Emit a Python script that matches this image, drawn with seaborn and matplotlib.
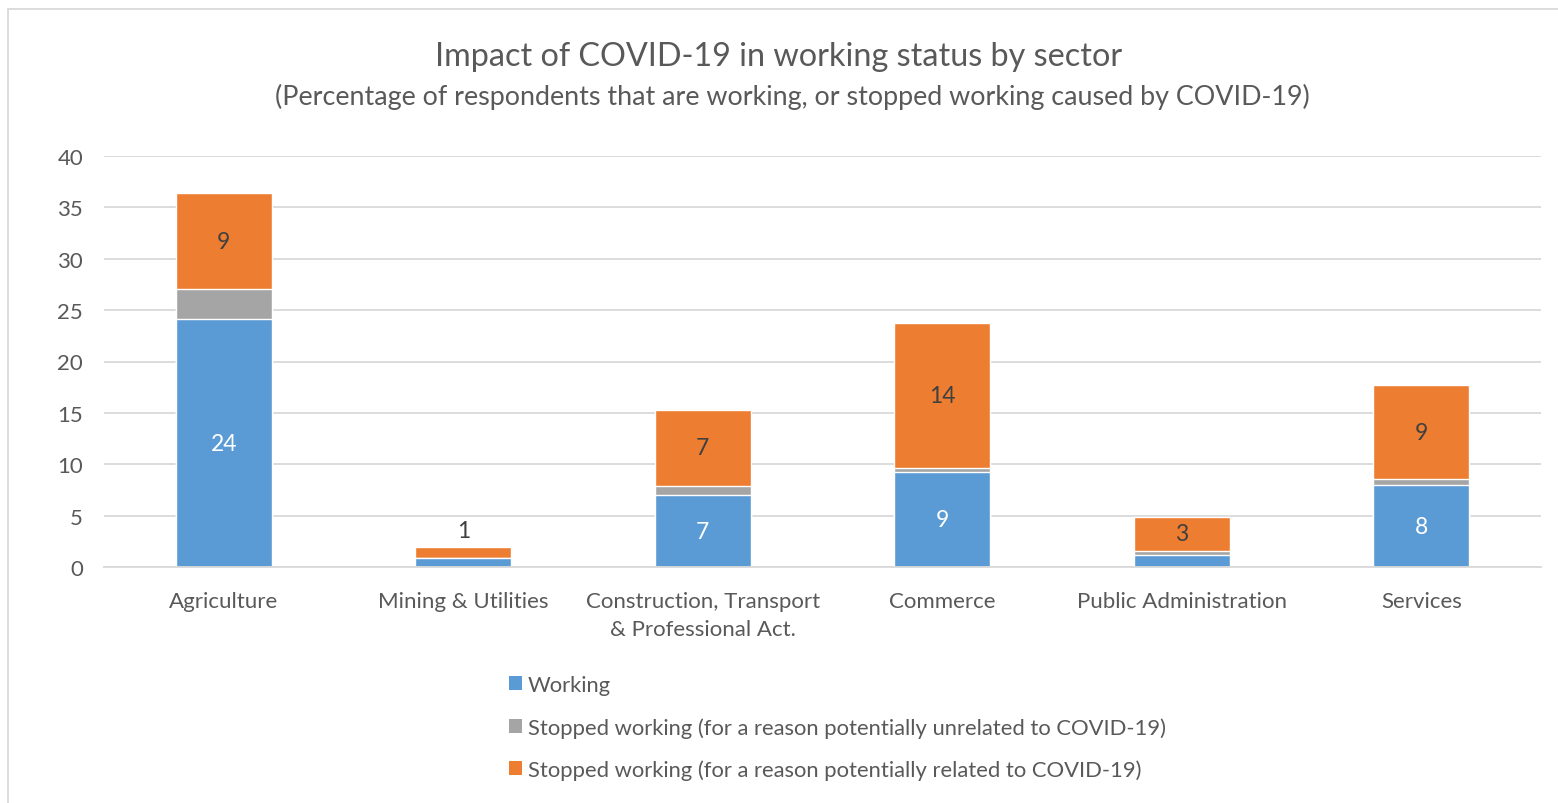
import pandas as pd
import matplotlib
matplotlib.use('Agg')
import matplotlib.pyplot as plt
import seaborn as sns
from matplotlib.patches import Patch
from matplotlib.lines import Line2D

sectors = ['Agriculture', 'Mining & Utilities', 'Construction, Transport\n& Professional Act.',
           'Commerce', 'Public Administration', 'Services']
working = [24.1, 0.85, 6.96, 9.2, 1.2, 7.98]
stopped_unrelated = [2.95, 0.0, 0.9, 0.39, 0.39, 0.58]
stopped_related = [9.31, 1.13, 7.46, 14.2, 3.25, 9.15]
series_names = ['Working',
                'Stopped working (for a reason potentially unrelated to COVID-19)',
                'Stopped working (for a reason potentially related to COVID-19)']

BLUE, GRAY, ORANGE = '#5B9BD5', '#A5A5A5', '#ED7D31'
TXT = '#595959'
GRID = '#D9D9D9'

df = pd.DataFrame({'Sector': sectors, 'Working': working,
                   'Unrelated': stopped_unrelated, 'Related': stopped_related})
df['Level2'] = df['Working'] + df['Unrelated']
df['Total'] = df['Level2'] + df['Related']

sns.set_style('white')
plt.rcParams['font.family'] = ['Lato', 'DejaVu Sans']

fig = plt.figure(figsize=(15.58, 8.04), dpi=100)
ax = fig.add_axes([104 / 1558, 1 - 568 / 804, (1541 - 104) / 1558, (568 - 157) / 804])

# stacked bars drawn as overlapping cumulative totals
sns.barplot(data=df, x='Sector', y='Total', color=ORANGE, width=0.4, saturation=1, ax=ax)
sns.barplot(data=df, x='Sector', y='Level2', color=GRAY, width=0.4, saturation=1, ax=ax)
sns.barplot(data=df, x='Sector', y='Working', color=BLUE, width=0.4, saturation=1, ax=ax)

ax.set_ylim(0, 40)
ax.set_yticks(range(0, 41, 5))
ax.yaxis.grid(True, color=GRID, linewidth=1.3)
ax.set_axisbelow(True)
for s in ['top', 'right', 'left']:
    ax.spines[s].set_visible(False)
ax.spines['bottom'].set_color(GRID)
ax.spines['bottom'].set_linewidth(1.3)
ax.set_xlabel('')
ax.set_ylabel('')
ax.tick_params(axis='y', length=0, pad=15, labelsize=16, labelcolor=TXT)
ax.tick_params(axis='x', length=0, pad=17, labelsize=16, labelcolor=TXT)
for lbl in ax.get_xticklabels():
    lbl.set_linespacing(1.55)

# data labels
for i, row in df.iterrows():
    if row['Working'] >= 2:
        ax.text(i, row['Working'] / 2, f"{row['Working']:.0f}", ha='center', va='center',
                color='white', fontsize=16.5)
    if row['Related'] >= 2:
        ax.text(i, row['Level2'] + row['Related'] / 2, f"{row['Related']:.0f}",
                ha='center', va='center', color='#404040', fontsize=16.5)
    else:
        ax.text(i, row['Total'] + 1.55, f"{row['Related']:.0f}", ha='center', va='center',
                color='#404040', fontsize=16.5)

fig.text(0.5, 1 - 57 / 804, 'Impact of COVID-19 in working status by sector',
         ha='center', va='center', fontsize=23.3, color=TXT)
fig.text(792 / 1558, 1 - 97 / 804,
         '(Percentage of respondents that are working, or stopped working caused by COVID-19)',
         ha='center', va='center', fontsize=19.4, color=TXT)

handles = [Patch(facecolor=c, edgecolor='none') for c in [BLUE, GRAY, ORANGE]]
fig.legend(handles, series_names, loc='upper left', bbox_to_anchor=(498 / 1558, 1 - 665 / 804),
           frameon=False, fontsize=15.8, labelcolor=TXT, handlelength=0.6, handleheight=0.6,
           handletextpad=0.25, labelspacing=1.0, borderpad=0)

# chart border (top and left visible)
fig.add_artist(Line2D([8 / 1558, 8 / 1558], [0, 1 - 10 / 804], color=GRID, linewidth=1.3))
fig.add_artist(Line2D([8 / 1558, 1], [1 - 10 / 804, 1 - 10 / 804], color=GRID, linewidth=1.3))

fig.savefig('out.png', dpi=100, facecolor='white')
